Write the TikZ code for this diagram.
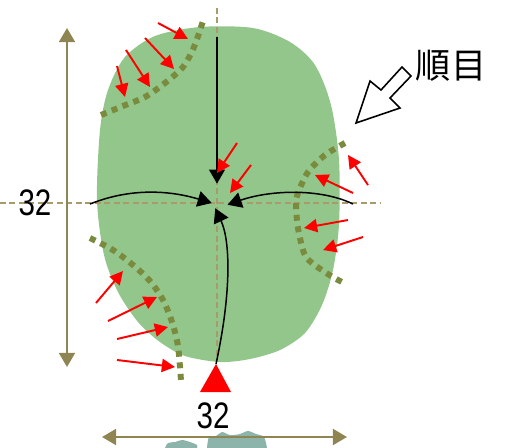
\documentclass[tikz,border=0pt]{standalone}
\usepackage{fontspec}
\newfontfamily\jpfont{Noto Sans CJK JP}
\newfontfamily\numfont[FakeStretch=0.8]{Liberation Sans}
\usetikzlibrary{arrows.meta}
\definecolor{leafgreen}{HTML}{93C68A}
\definecolor{dotolive}{HTML}{7A8B3E}
\definecolor{dimkhaki}{HTML}{8F8552}
\definecolor{dashkhaki}{HTML}{A89A6A}
\definecolor{cloudgray}{HTML}{8CB4AA}

\begin{document}
\begin{tikzpicture}[x=0.02cm,y=-0.02cm,
    dimline/.style={draw=dimkhaki,line width=1.4pt,{Triangle[length=8pt,width=9pt]}-{Triangle[length=8pt,width=9pt]}},
    centreline/.style={draw=dashkhaki,line width=0.8pt,dash pattern=on 3.4pt off 2pt},
    grainline/.style={draw=dotolive,line width=3.4pt,dash pattern=on 3.4pt off 3.2pt},
    push/.style={draw=red,line width=1.1pt,-{Triangle[length=7.5pt,width=7.5pt]}},
    flow/.style={draw=black,line width=0.85pt,-{Triangle[length=8pt,width=9pt]}},
    dimlabel/.style={font=\numfont\fontsize{21}{21}\selectfont,inner sep=1pt}]
    \useasboundingbox (0,0) rectangle (506,447);
    % leaf
    \fill [leafgreen] plot [smooth cycle] coordinates {(97,200) (100,130) (108,90) (125,57) (155,36) (200,27)
        (253,28) (290,42) (315,65) (331,105) (339,160) (339,224) (333,270) (322,305) (305,333)
        (280,350) (250,359) (220,362) (185,356) (160,342) (138,322) (118,292) (104,255)};
    % stems of the neighbours below
    \fill [cloudgray] plot [smooth] coordinates {(165,448) (168,443) (175,442) (182,440) (190,442) (197,445) (197,448)};
    \fill [cloudgray] plot [smooth] coordinates {(207,448) (209,437) (216,436) (222,432) (230,435) (240,434)
        (248,431) (256,434) (264,437) (267,448)};
    % centre lines
    \draw [centreline] (0,203) -- (380,203);
    \draw [centreline] (217,8) -- (217,360);
    % grain lines
    \draw [grainline] plot [smooth] coordinates {(101,115) (123,106) (145,97) (165,83) (183,67) (194,47) (203,21)};
    \draw [grainline] plot [smooth] coordinates {(345,143) (325,155) (308,172) (298,193) (296,205) (298,228)
        (304,253) (312,263) (331,276) (342,282)};
    \draw [grainline] plot [smooth] coordinates {(90,238) (113,250) (133,265) (150,281) (163,300) (172,322)
        (178,346) (181,381)};
    % flow to the centre
    \coordinate (centre) at (217,203);
    \coordinate (fromtop) at (217,37);
    \coordinate (fromleft) at (90,204);
    \coordinate (fromright) at (353,204);
    \coordinate (frombottom) at (216,364);
    \draw [flow] (fromtop) -- ([yshift=11]centre);
    \draw [flow] (fromleft) .. controls (135,186) and (175,192) .. ([xshift=-3]centre);
    \draw [flow] (fromright) .. controls (320,188) and (270,190) .. ([xshift=6,yshift=-1]centre);
    \draw [flow] (frombottom) .. controls (232,290) and (230,240) .. ([xshift=-1,yshift=-3]centre);
    \fill [red] (frombottom) -- (231,392) -- (200,392) -- cycle;
    % pressure
    \foreach \sx/\sy/\tx/\ty in {158/23/188/39, 145/38/174/69, 126/50/150/87, 117/66/125/97,
            237/143/217/173, 251/165/230/193,
            368/185/348/155, 353/193/315/175, 348/220/304/228, 363/237/323/250,
            96/303/123/271, 108/321/157/297, 117/339/168/327, 117/360/175/367}
        \draw [push] (\sx,\sy) -- (\tx,\ty);
    % dimensions
    \draw [dimline] (67,28) -- (67,367);
    \draw [dimline] (102,437) -- (347,437);
    \node [dimlabel] (vlabel) at (35,203) {32};
    \node [dimlabel] (hlabel) at (213,416) {32};
    % grain direction
    \draw [line width=0.9pt,fill=white] (356,123) -- (370,81) -- (381,90) -- (402,67) -- (411,76)
        -- (390,98) -- (400,108) -- cycle;
    \node [font=\jpfont\fontsize{20}{20}\selectfont,inner sep=0pt] (grain) at (451,66) {順目};
\end{tikzpicture}
\end{document}
